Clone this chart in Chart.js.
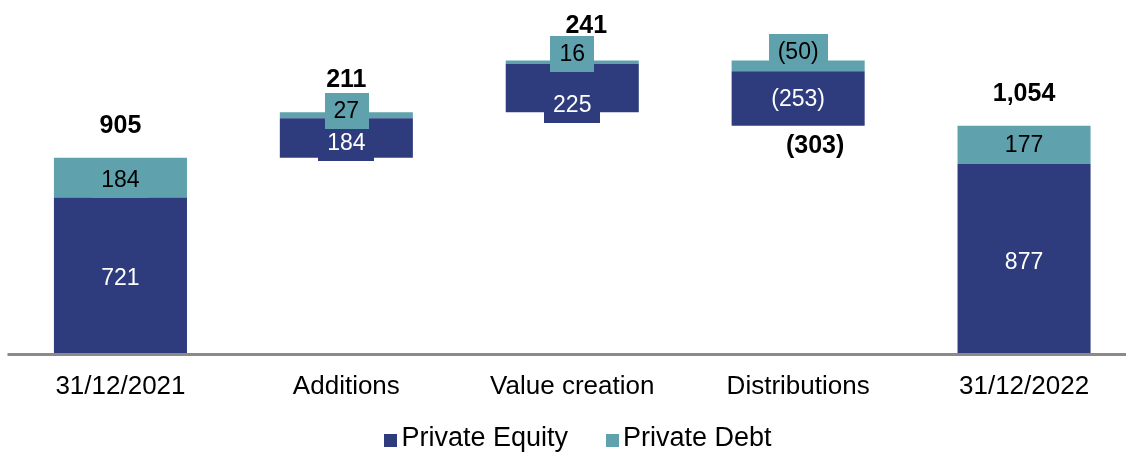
<!DOCTYPE html>
<html>
<head>
<meta charset="utf-8">
<script src="https://cdn.jsdelivr.net/npm/chart.js@4.4.1/dist/chart.umd.min.js"></script>
<style>
html,body{margin:0;padding:0;background:#ffffff;overflow:hidden;}
#wrap{position:relative;width:1140px;height:453px;}
</style>
</head>
<body>
<div id="wrap"><canvas id="c"></canvas></div>
<script>
// ---- data ----
const categories = ['31/12/2021', 'Additions', 'Value creation', 'Distributions', '31/12/2022'];
const barKinds = ['total', 'delta', 'delta', 'delta', 'total'];
const privateEquity = [721, 184, 225, -253, 877];
const privateDebt = [184, 27, 16, -50, 177];
const seriesNames = ['Private Equity', 'Private Debt'];

// ---- style ----
const FONT = '"Liberation Sans", Arial, Helvetica, sans-serif';
const COLORS = { pe: '#2E3C7E', pd: '#5FA2AD' };
const segLabelShift = { pe: [2, 5, 17, 0, 3], pd: [2, -4.5, -8, -14, 0] };
const totalLabelShift = [
  { dx: 0, dy: -32 }, { dx: 0, dy: -32 }, { dx: 14, dy: -34 }, { dx: 17, dy: 20 }, { dx: 0, dy: -32 }
];

// build floating ranges (waterfall) from the data arrays
function buildRanges() {
  let run = 0;
  const pe = [], pd = [];
  for (let i = 0; i < categories.length; i++) {
    const a = privateEquity[i], b = privateDebt[i];
    if (barKinds[i] === 'total') {
      pe.push([0, a]);
      pd.push([a, a + b]);
      run = a + b;
    } else if (a + b >= 0) {
      pe.push([run, run + a]);
      pd.push([run + a, run + a + b]);
      run = run + a + b;
    } else {
      const end = run + a + b;
      pe.push([end, end - a]);
      pd.push([end - a, run]);
      run = end;
    }
  }
  return { pe, pd };
}
const ranges = buildRanges();

function fmt(v) {
  const s = Math.abs(v).toLocaleString('en-US');
  return v < 0 ? '(' + s + ')' : s;
}

const axisLinePlugin = {
  id: 'axisLine',
  afterDatasetsDraw(chart) {
    const { ctx, chartArea } = chart;
    ctx.save();
    ctx.fillStyle = '#8a8a8a';
    ctx.fillRect(chartArea.left, chartArea.bottom, chart.width - chartArea.left, 3);
    ctx.restore();
  }
};

const labelPlugin = {
  id: 'wfLabels',
  afterDatasetsDraw(chart) {
    const ctx = chart.ctx;
    const mPE = chart.getDatasetMeta(0), mPD = chart.getDatasetMeta(1);
    ctx.save();
    ctx.textAlign = 'center';
    ctx.textBaseline = 'middle';
    const segFont = '23px ' + FONT;
    const drawSeg = (el, val, color, textColor, dy) => {
      const top = Math.min(el.y, el.base), bot = Math.max(el.y, el.base);
      const cy = (top + bot) / 2 + dy;
      const txt = fmt(val);
      ctx.font = segFont;
      const w = ctx.measureText(txt).width + 18;
      const h = 36;
      ctx.fillStyle = color;
      ctx.fillRect(Math.round(el.x - w / 2), Math.round(cy - h / 2), Math.round(w), h);
      ctx.fillStyle = textColor;
      ctx.fillText(txt, el.x, cy + 1);
    };
    for (let i = 0; i < categories.length; i++) {
      drawSeg(mPE.data[i], privateEquity[i], COLORS.pe, '#ffffff', segLabelShift.pe[i]);
      drawSeg(mPD.data[i], privateDebt[i], COLORS.pd, '#000000', segLabelShift.pd[i]);
    }
    // totals
    ctx.font = 'bold 25px ' + FONT;
    ctx.fillStyle = '#000000';
    for (let i = 0; i < categories.length; i++) {
      const total = privateEquity[i] + privateDebt[i];
      const e1 = mPE.data[i], e2 = mPD.data[i];
      const top = Math.min(e1.y, e1.base, e2.y, e2.base);
      const bot = Math.max(e1.y, e1.base, e2.y, e2.base);
      const s = totalLabelShift[i];
      const y = total >= 0 ? top + s.dy : bot + s.dy;
      ctx.fillText(fmt(total), e1.x + s.dx, y);
    }
    ctx.restore();
  }
};

const legendPlugin = {
  id: 'customLegend',
  afterDraw(chart) {
    const ctx = chart.ctx;
    ctx.save();
    ctx.font = '27px ' + FONT;
    ctx.textBaseline = 'middle';
    ctx.textAlign = 'left';
    const box = 13, gap = 4, itemGap = 38;
    const cols = [COLORS.pe, COLORS.pd];
    const widths = seriesNames.map(n => ctx.measureText(n).width);
    const total = widths.reduce((a, w) => a + box + gap + w, 0) + itemGap;
    let x = 578 - total / 2;
    const cy = 441;
    seriesNames.forEach((n, k) => {
      ctx.fillStyle = cols[k];
      ctx.fillRect(Math.round(x), cy - 7, box, box);
      ctx.fillStyle = '#000000';
      ctx.fillText(n, x + box + gap, cy - 2);
      x += box + gap + widths[k] + itemGap;
    });
    ctx.restore();
  }
};

new Chart(document.getElementById('c'), {
  type: 'bar',
  data: {
    labels: categories,
    datasets: [
      { label: seriesNames[0], data: ranges.pe, backgroundColor: COLORS.pe, borderWidth: 0,
        grouped: false, barPercentage: 0.589, categoryPercentage: 1 },
      { label: seriesNames[1], data: ranges.pd, backgroundColor: COLORS.pd, borderWidth: 0,
        grouped: false, barPercentage: 0.589, categoryPercentage: 1 }
    ]
  },
  options: {
    responsive: true,
    maintainAspectRatio: false,
    animation: false,
    layout: { padding: { top: 8, left: 7.5, right: 3, bottom: 32.8 } },
    plugins: { legend: { display: false }, tooltip: { enabled: false } },
    scales: {
      x: {
        grid: { display: false, drawTicks: false },
        border: { display: false },
        ticks: { color: '#000000', font: { size: 26, family: FONT }, padding: 18, maxRotation: 0, autoSkip: false }
      },
      y: { display: false, min: 0, max: 1600 }
    }
  },
  plugins: [axisLinePlugin, labelPlugin, legendPlugin]
});
</script>
</body>
</html>
